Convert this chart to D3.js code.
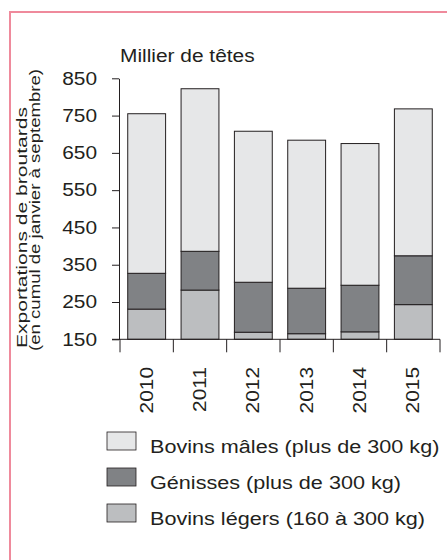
<!DOCTYPE html>
<html>
<head>
<meta charset="utf-8">
<script src="https://cdn.jsdelivr.net/npm/d3@7"></script>
<style>
  body { margin: 0; background: #fff; }
  svg text { font-family: "Liberation Sans", Arial, sans-serif; fill: #231f20; }
</style>
</head>
<body>
<div id="canvas"></div>
<script>
// data (milliers de têtes)
const years = ["2010", "2011", "2012", "2013", "2014", "2015"]
const legers = [231, 282, 169, 165, 170, 243]
const genisses = [96, 104, 134, 122, 125, 131]
const males = [428, 436, 405, 397, 380, 394]
const yTicks = [150, 250, 350, 450, 550, 650, 750, 850]

const keys = ["legers", "genisses", "males"]
const labels = {
  males: "Bovins mâles (plus de 300 kg)",
  genisses: "Génisses (plus de 300 kg)",
  legers: "Bovins légers (160 à 300 kg)"
}
const colors = { males: "#e6e7e8", genisses: "#808285", legers: "#bcbec0" }

const table = years.map((y, i) => ({ year: y, legers: legers[i], genisses: genisses[i], males: males[i] }))
const series = d3.stack().keys(keys)(table)

const svg = d3.select("#canvas").append("svg").attr("width", 447).attr("height", 560)

// pink frame
svg.append("rect").attr("x", 10).attr("y", 12).attr("width", 500).attr("height", 600)
  .attr("fill", "none").attr("stroke", "#ef8a9c").attr("stroke-width", 2)

// stretch text a little wider, like the original
function stretch(sel, k) {
  sel.each(function () {
    const w = this.getComputedTextLength()
    d3.select(this).attr("textLength", w * k).attr("lengthAdjust", "spacingAndGlyphs")
  })
}

const x = d3.scaleBand().domain(years).range([120, 440]).paddingInner(0.29).paddingOuter(0.145)
const y = d3.scaleLinear().domain([150, 850]).range([339.3, 78.3]).clamp(true)

// bars
svg.append("g").selectAll("g").data(series).enter().append("g")
  .attr("fill", d => colors[d.key])
  .selectAll("rect").data(d => d).enter().append("rect")
  .attr("x", d => x(d.data.year))
  .attr("width", x.bandwidth())
  .attr("y", d => y(d[1]))
  .attr("height", d => y(d[0]) - y(d[1]))
  .attr("stroke", "#231f20").attr("stroke-width", 1)

// y axis
const yAxis = svg.append("g").attr("transform", "translate(119,0)")
  .call(d3.axisLeft(y).tickValues(yTicks).tickSize(7).tickSizeOuter(0).tickPadding(15))
yAxis.selectAll("line, path").attr("stroke", "#231f20")
yAxis.selectAll("text").attr("font-size", 18).attr("fill", "#231f20").call(stretch, 1.16)

// x axis baseline + ticks at band edges
const y0 = y(150)
svg.append("line").attr("x1", 112).attr("x2", x.range()[1]).attr("y1", y0).attr("y2", y0)
  .attr("stroke", "#231f20")
const gap = (x.step() - x.bandwidth()) / 2
const edges = years.map(d => x(d) - gap).concat([x(years[years.length - 1]) + x.bandwidth() + gap])
svg.append("g").selectAll("line").data(edges).enter().append("line")
  .attr("x1", d => d).attr("x2", d => d).attr("y1", y0).attr("y2", y0 + 13)
  .attr("stroke", "#231f20")

svg.append("g").selectAll("text").data(years).enter().append("text")
  .attr("transform", d => `translate(${x(d) + x.bandwidth() / 2},367) rotate(-90)`)
  .attr("text-anchor", "end").attr("dominant-baseline", "central")
  .attr("font-size", 18).text(d => d).call(stretch, 1.16)

// unit title
svg.append("text").attr("x", 120).attr("y", 62).attr("font-size", 18)
  .text("Millier de têtes").call(stretch, 1.16)

// y axis title
const yt = svg.append("text").attr("transform", "rotate(-90)")
  .attr("font-size", 15).attr("lengthAdjust", "spacingAndGlyphs")
yt.append("tspan").attr("x", -348).attr("y", 27).attr("textLength", 241)
  .attr("lengthAdjust", "spacingAndGlyphs").text("Exportations de broutards")
yt.append("tspan").attr("x", -351).attr("y", 40).attr("textLength", 282)
  .attr("lengthAdjust", "spacingAndGlyphs").text("(en cumul de janvier à septembre)")

// legend
const legend = svg.append("g").selectAll("g").data(["males", "genisses", "legers"]).enter().append("g")
  .attr("transform", (d, i) => `translate(107,${432 + i * 36})`)
legend.append("rect").attr("width", 29).attr("height", 18)
  .attr("fill", d => colors[d]).attr("stroke", "#231f20").attr("stroke-width", 0.8)
legend.append("text").attr("x", 43).attr("y", 15).attr("dominant-baseline", "central")
  .attr("font-size", 18).text(d => labels[d]).call(stretch, 1.2)
</script>
</body>
</html>
